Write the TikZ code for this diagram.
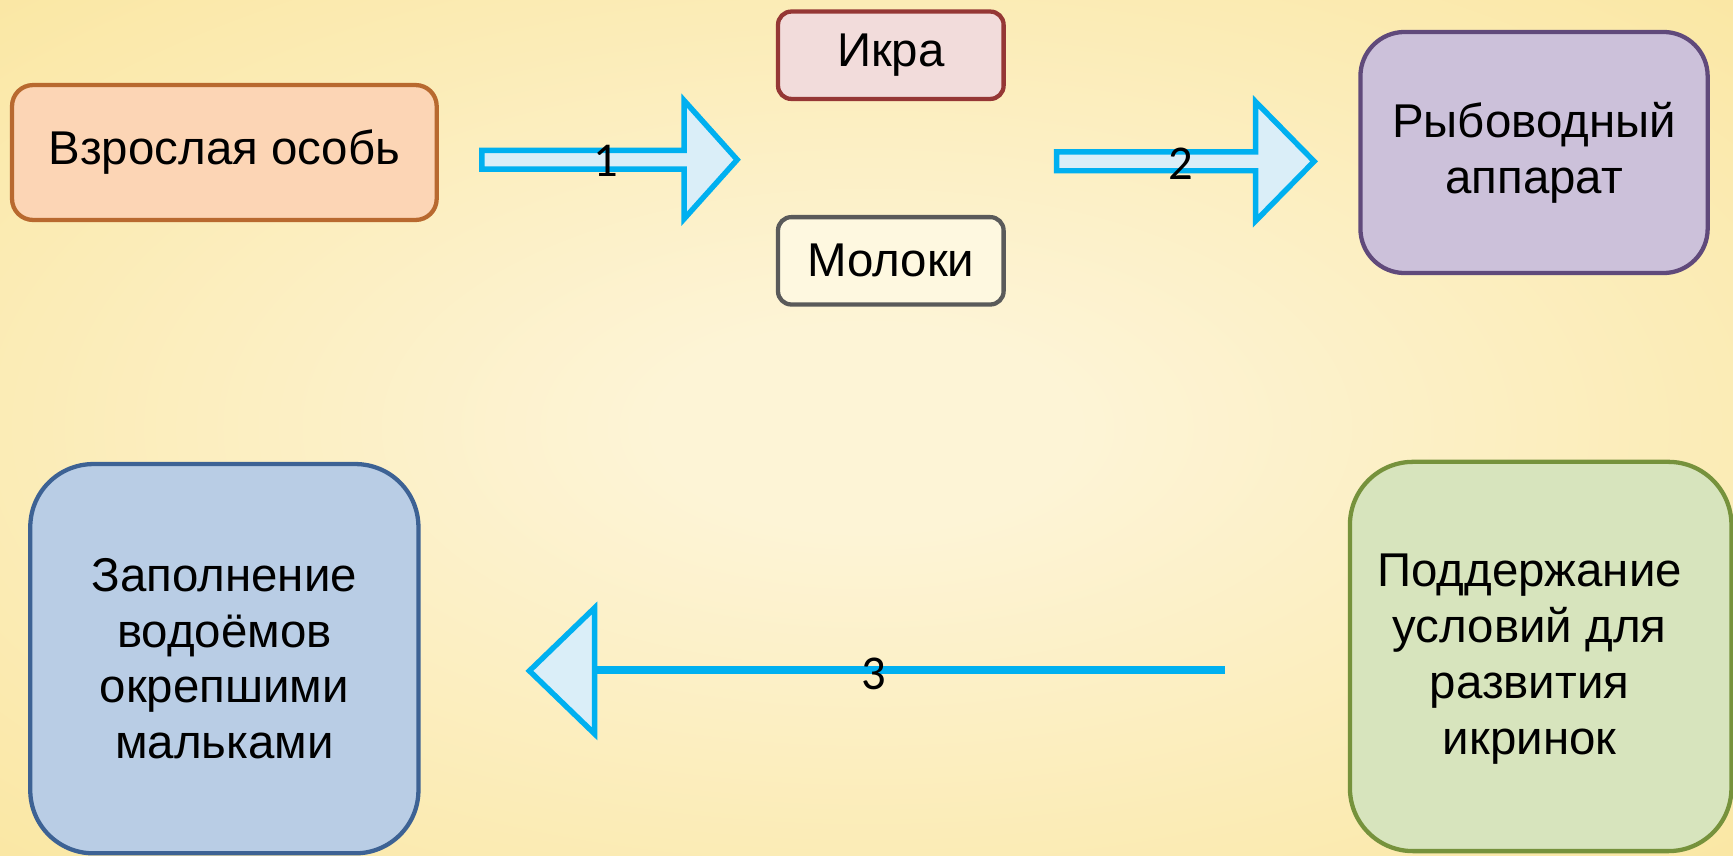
\documentclass[tikz,border=0pt]{standalone}
\usepackage{fontspec}
\setmainfont{Liberation Sans}
\newfontfamily\numfont{Carlito}
\definecolor{bgA}{HTML}{FDF4D6}
\definecolor{bgB}{HTML}{FAE6A0}
\definecolor{bgC}{HTML}{F3C862}
\definecolor{arrowfill}{HTML}{DAEEF8}
\definecolor{arrowline}{HTML}{00B0F0}
\definecolor{vzF}{HTML}{FCD5B5}\definecolor{vzD}{HTML}{B8692F}
\definecolor{ikF}{HTML}{F2DCDB}\definecolor{ikD}{HTML}{953735}
\definecolor{moF}{HTML}{FEF8E0}\definecolor{moD}{HTML}{5A5A5A}
\definecolor{ryF}{HTML}{CCC1DA}\definecolor{ryD}{HTML}{604A7B}
\definecolor{zaF}{HTML}{B9CDE5}\definecolor{zaD}{HTML}{3D6294}
\definecolor{poF}{HTML}{D7E4BD}\definecolor{poD}{HTML}{76923C}
\pgfdeclareradialshading{bgshade}{\pgfpoint{0bp}{0bp}}{color(0bp)=(bgA); color(6bp)=(bgA); color(38bp)=(bgB); color(62bp)=(bgC); color(75bp)=(bgC)}
\tikzset{
  boxtext/.style={align=center, inner sep=0pt,
    font=\fontsize{12.2}{14.4}\selectfont, text=black},
  box/.style={boxtext, draw, line width=1.1pt},
  blockarrow/.style={draw=arrowline, fill=arrowfill, line width=1.4pt, line join=miter},
  numlabel/.style={font=\numfont\fontsize{12.5}{14}\selectfont, inner sep=0pt}
}
\begin{document}
\begin{tikzpicture}[x=0.01cm, y=-0.01cm]
\useasboundingbox (0,0) rectangle (1568,774);
\shade[shading=bgshade] (0,0) rectangle (1568,774);
% boxes
\node[box, fill=vzF, draw=vzD, rounded corners=0.19cm, minimum width=3.84cm, minimum height=1.22cm] (vz) at (203,138) {Взрослая особь};
\node[box, fill=ikF, draw=ikD, rounded corners=0.12cm, minimum width=2.04cm, minimum height=0.79cm] (ik) at (806,50) {Икра};
\node[box, fill=moF, draw=moD, rounded corners=0.12cm, minimum width=2.04cm, minimum height=0.79cm] (mo) at (806,236) {Молоки};
\node[box, fill=ryF, draw=ryD, rounded corners=0.4cm, minimum width=3.14cm, minimum height=2.18cm] (ry) at (1388,138) {Рыбоводный\\аппарат};
\node[box, fill=zaF, draw=zaD, rounded corners=0.57cm, minimum width=3.51cm, minimum height=3.52cm] (za) at (203,596) {Заполнение\\водоёмов\\окрепшими\\мальками};
\node[box, fill=poF, draw=poD, rounded corners=0.57cm, minimum width=3.45cm, minimum height=3.52cm] (po) at (1394,594) {};
\node[boxtext] (potext) at (1384,596) {Поддержание\\условий для\\развития\\икринок};
% arrow 1
\coordinate (a1s) at (436,144.5);
\coordinate (a1e) at (667,144.5);
\draw[blockarrow] ([yshift=0.085cm]a1s) -- (619,136) -- (619,91) -- (a1e) -- (619,198) -- (619,153) -- ([yshift=-0.085cm]a1s) -- cycle;
\node[numlabel] (n1) at (548,146) {1};
% arrow 2
\coordinate (a2s) at (956,146);
\coordinate (a2e) at (1189,146);
\draw[blockarrow] ([yshift=0.085cm]a2s) -- (1136,137.5) -- (1136,92) -- (a2e) -- (1136,200) -- (1136,154.5) -- ([yshift=-0.085cm]a2s) -- cycle;
\node[numlabel] (n2) at (1068,148) {2};
% arrow 3
\coordinate (a3s) at (1108,606);
\coordinate (a3b) at (538,606);
\coordinate (a3e) at (479,607);
\draw[arrowline, line width=2.1pt] (a3s) -- (a3b);
\draw[blockarrow] (538,550) -- (a3e) -- (538,664) -- cycle;
\node[numlabel] (n3) at (791,610) {3};
\end{tikzpicture}
\end{document}
